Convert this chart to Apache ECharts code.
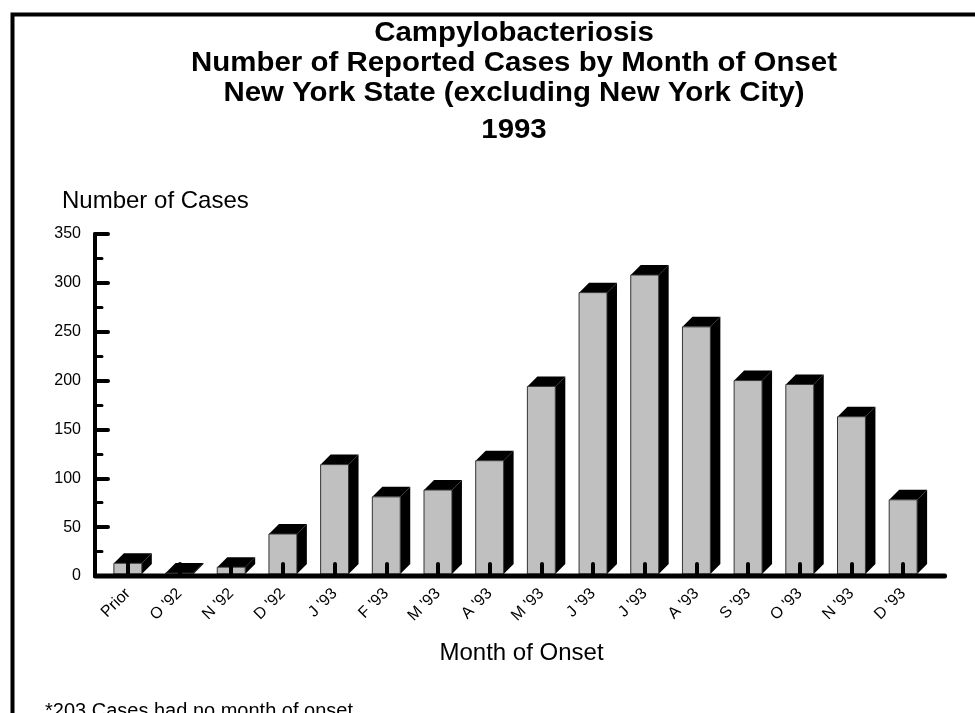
<!DOCTYPE html>
<html>
<head>
<meta charset="utf-8">
<style>
  html, body { margin: 0; padding: 0; background: #fff; }
  #chart { width: 975px; height: 713px; }
</style>
<script src="https://cdn.jsdelivr.net/npm/echarts@6/dist/echarts.min.js"></script>
</head>
<body>
<div id="chart"></div>
<script>
// ---- data ----
var categories = ["Prior", "O '92", "N '92", "D '92", "J '93", "F '93", "M '93", "A '93",
                  "M '93", "J '93", "J '93", "A '93", "S '93", "O '93", "N '93", "D '93"];
var cases = [13, 3, 9, 43, 114, 81, 88, 118, 194, 290, 308, 255, 200, 196, 163, 78];
var titleLines = ["Campylobacteriosis",
                  "Number of Reported Cases by Month of Onset",
                  "New York State (excluding New York City)",
                  "1993"];
var yAxisTitle = "Number of Cases";
var xAxisTitle = "Month of Onset";
var footnote = "*203 Cases had no month of onset";
var yMin = 0, yMax = 350, yStep = 50;

// ---- layout ----
var GRID_LEFT = 102, GRID_RIGHT = 46, GRID_TOP = 234, GRID_BOTTOM = 137;
var DEPTH = 10;
var FONT = "'Liberation Sans', Arial, sans-serif";
var TITLE_X = 514;
var TITLE_Y = [34, 64, 94, 131];

var chart = echarts.init(document.getElementById('chart'), null, { renderer: 'canvas' });

function renderBar(params, api) {
  var idx = api.value(0), v = api.value(1);
  var topPt = api.coord([idx, v]);
  var basePt = api.coord([idx, 0]);
  var bw = api.size([1, 0])[0] * 0.54;
  var l = topPt[0] - bw / 2, r = topPt[0] + bw / 2;
  var t = topPt[1], b = basePt[1] - 2;
  return {
    type: 'group',
    children: [
      { type: 'polygon', shape: { points: [[r, b], [r, t], [r + DEPTH, t - DEPTH], [r + DEPTH, b - DEPTH]] },
        style: { fill: '#000' } },
      { type: 'polygon', shape: { points: [[l, t], [l + DEPTH, t - DEPTH], [r + DEPTH, t - DEPTH], [r, t]] },
        style: { fill: '#000' } },
      { type: 'rect', shape: { x: l, y: t, width: bw, height: Math.max(b - t, 0) },
        style: { fill: '#c0c0c0', stroke: '#333', lineWidth: 1 } }
    ]
  };
}

function buildGraphic(baselineY) {
  var g = [
    { type: 'rect', left: 10, top: 12, shape: { width: 1100, height: 900 },
      style: { fill: 'none', stroke: '#000', lineWidth: 4 }, z: 100 },
    { type: 'text', x: 62, y: 201,
      style: { text: yAxisTitle, font: "24px " + FONT, fill: '#000',
               textAlign: 'left', textVerticalAlign: 'middle' } },
    { type: 'text', x: 45, y: 701,
      style: { text: footnote, font: "20px " + FONT, fill: '#000',
               textAlign: 'left', textVerticalAlign: 'top' } }
  ];
  titleLines.forEach(function (line, i) {
    g.push({ type: 'text', x: TITLE_X, y: TITLE_Y[i], scaleX: 1.09,
      style: { text: line, font: "bold 27px " + FONT, fill: '#000',
               textAlign: 'center', textVerticalAlign: 'middle' } });
  });
  if (baselineY != null) {
    g.push({ type: 'rect',
      shape: { x: GRID_LEFT - 9, y: baselineY - 2.5, width: 975 - GRID_RIGHT - GRID_LEFT + 27, height: 5, r: 2 },
      style: { fill: '#000' }, z: 10 });
  }
  return g;
}

var option = {
  backgroundColor: '#fff',
  animation: false,
  textStyle: { fontFamily: FONT },
  grid: { left: GRID_LEFT, right: GRID_RIGHT, top: GRID_TOP, bottom: GRID_BOTTOM, containLabel: false },
  xAxis: {
    type: 'category',
    data: categories,
    z: 5,
    axisLine: { show: false },
    axisTick: { show: true, inside: true, alignWithLabel: true, length: 12,
                lineStyle: { color: '#000', width: 4, cap: 'round' } },
    axisLabel: { rotate: 45, margin: 15, fontSize: 16, color: '#000', fontFamily: FONT, interval: 0 },
    name: xAxisTitle,
    nameLocation: 'middle',
    nameGap: 65,
    nameTextStyle: { fontSize: 24, color: '#000', fontFamily: FONT, padding: [0, 0, 0, 12] }
  },
  yAxis: {
    type: 'value',
    min: yMin, max: yMax, interval: yStep,
    offset: 7,
    axisLine: { show: true, lineStyle: { color: '#000', width: 4 } },
    axisTick: { show: true, inside: true, length: 13, lineStyle: { color: '#000', width: 4, cap: 'round' } },
    minorTick: { show: true, splitNumber: 2, length: 7, lineStyle: { color: '#000', width: 3, cap: 'round' } },
    splitLine: { show: false },
    axisLabel: { fontSize: 16, color: '#000', margin: 14, fontFamily: FONT }
  },
  graphic: buildGraphic(null),
  series: [{
    type: 'custom',
    z: 2,
    renderItem: renderBar,
    encode: { x: 0, y: 1 },
    data: cases.map(function (v, i) { return [i, v]; })
  }]
};

chart.setOption(option);

// baseline, extended beyond the plotting area like the original
var zeroPx = chart.convertToPixel({ xAxisIndex: 0, yAxisIndex: 0 }, [0, 0]);
chart.setOption({ graphic: buildGraphic(zeroPx[1]) }, { replaceMerge: ['graphic'] });
</script>
</body>
</html>
